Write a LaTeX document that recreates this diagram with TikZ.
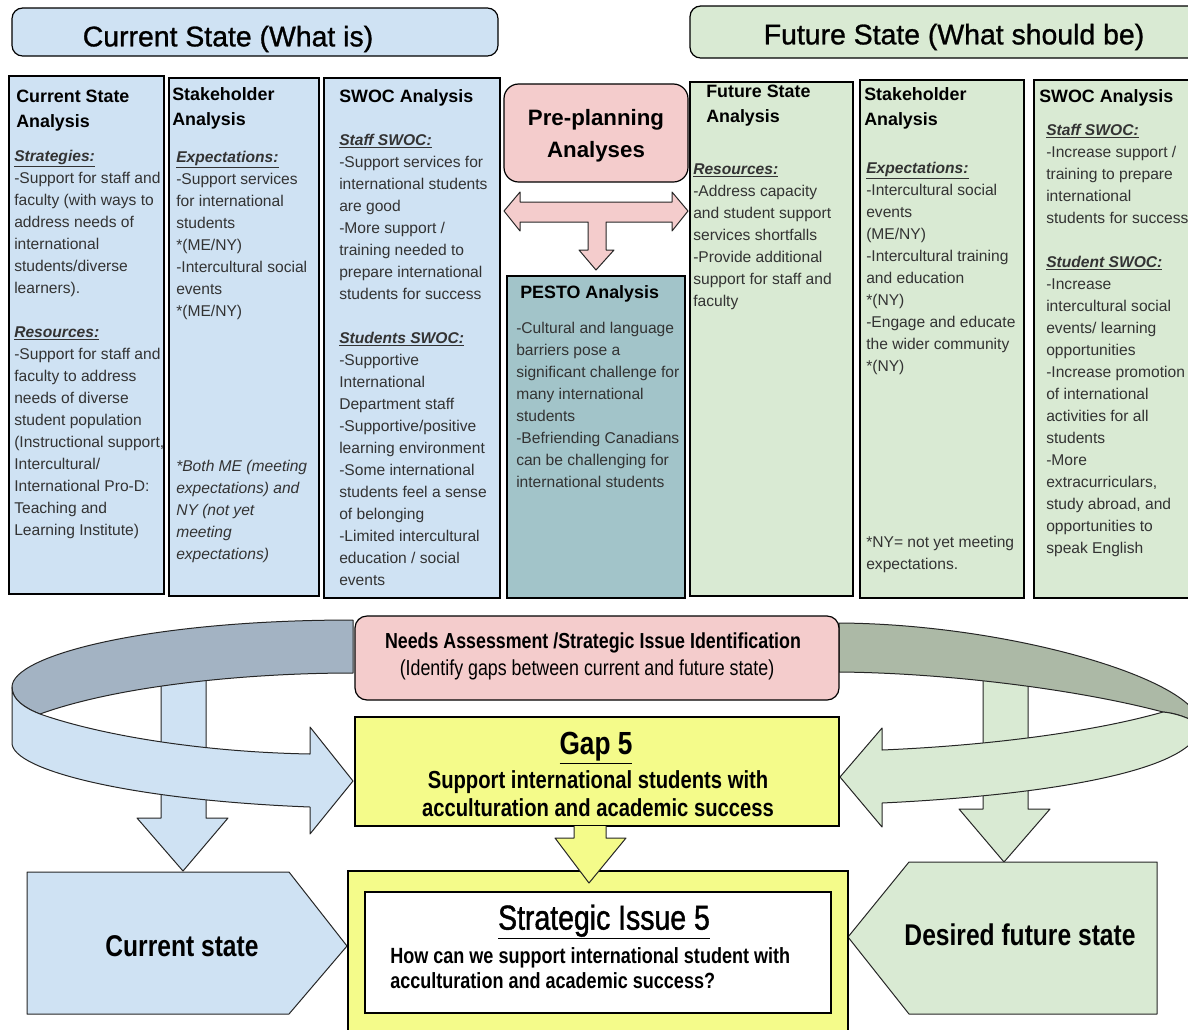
\documentclass[tikz,border=0pt]{standalone}
\usepackage{fontspec}
\setmainfont{Liberation Sans}
\newfontfamily\narrowfont[FakeStretch=0.82]{Liberation Sans}
\newfontfamily\headfont[FakeBold=1]{Liberation Sans}
\newfontfamily\issuefont[FakeStretch=0.82, FakeBold=1.2]{Liberation Sans}

\definecolor{curblue}{HTML}{CFE2F3}
\definecolor{futgreen}{HTML}{D9EAD3}
\definecolor{prepink}{HTML}{F4CCCC}
\definecolor{pestoteal}{HTML}{A2C4C9}
\definecolor{gapyellow}{HTML}{F4FB8A}
\definecolor{bandblue}{HTML}{A3B3C3}
\definecolor{bandgreen}{HTML}{ACB9A6}
\definecolor{bodygray}{HTML}{333333}

\tikzset{
  colbox/.style={draw=black, line width=0.9pt},
  band/.style={draw=black!85, line width=0.75pt, line join=round},
  coltitle/.style={anchor=north west, inner sep=0pt, align=left,
    font=\fontsize{13.4}{18.75}\selectfont\bfseries},
  colbody/.style={anchor=north west, inner sep=0pt, align=left, text=bodygray,
    font=\fontsize{11.7}{16.5}\selectfont},
  headtext/.style={inner sep=0pt, font=\headfont\fontsize{21.3}{24}\selectfont},
}
\newcommand{\subhead}[1]{\textbf{\textit{\underline{#1}}}}

\begin{document}
\begin{tikzpicture}[x=0.75pt, y=-0.75pt]
  \useasboundingbox (0,0) rectangle (1188,1029);
  \clip (0,0) rectangle (1188,1029);

  % headers
  \draw[colbox, fill=curblue, rounded corners=8pt] (12,8) rectangle (498,56);
  \draw[colbox, fill=futgreen, rounded corners=8pt] (690,6) rectangle (1200,58);
  \node[headtext] (curhead) at (228,39) {Current State (What is)};
  \node[headtext] (futhead) at (954,37) {Future State (What should be)};

  % analysis columns
  \def \Cols{
    9/76/164/594/curblue,
    169/78/319/596/curblue,
    324/78/500/598/curblue,
    507/276/685/598/pestoteal,
    690/82/853/596/futgreen,
    860/80/1024/598/futgreen,
    1034/80/1200/598/futgreen}
  \foreach \xa / \ya / \xb / \yb / \c in \Cols{
    \draw[colbox, fill=\c] (\xa,\ya) rectangle (\xb,\yb);
  }
  \draw[colbox, fill=prepink, rounded corners=11pt] (504,84) rectangle (688,182);

  % column titles
  \def \Titles{
    csa/16/90/{Current State\\Analysis},
    csh/172/87/{Stakeholder\\Analysis},
    csw/339/89/{SWOC Analysis},
    pst/520/285/{PESTO Analysis},
    fsa/706/85/{Future State\\Analysis},
    fsh/864/87/{Stakeholder\\Analysis},
    fsw/1039/89/{SWOC Analysis}}
  \foreach \id / \x / \y / \lb in \Titles{
    \node[coltitle] (\id) at (\x,\y) {\lb};
  }
  \node[font=\fontsize{16.7}{24}\selectfont\bfseries, align=center] (pre) at (596,136) {Pre-planning\\Analyses};

  % column texts
  \node[colbody] (csabody) at (14,150) {\subhead{Strategies:}\\
    -Support for staff and\\faculty (with ways to\\address needs of\\international\\students/diverse\\learners).\\[16.5pt]
    \subhead{Resources:}\\-Support for staff and\\faculty to address\\needs of diverse\\student population\\
    (Instructional support,\\Intercultural/\\International Pro-D:\\Teaching and\\Learning Institute)};
  \node[colbody] (cshbody) at (176,151) {\subhead{Expectations:}\\
    -Support services\\for international\\students\\*(ME/NY)\\-Intercultural social\\events\\*(ME/NY)};
  \node[colbody, font=\fontsize{11.7}{16.5}\selectfont\itshape] (cshnote) at (176,460) {*Both ME (meeting\\
    expectations) and\\NY (not yet\\meeting\\expectations)};
  \node[colbody] (cswbody) at (339,134) {\subhead{Staff SWOC:}\\
    -Support services for\\international students\\are good\\-More support /\\training needed to\\
    prepare international\\students for success\\[16.5pt]
    \subhead{Students SWOC:}\\-Supportive\\International\\Department staff\\-Supportive/positive\\
    learning environment\\-Some international\\students feel a sense\\of belonging\\
    -Limited intercultural\\education / social\\events};
  \node[colbody] (pstbody) at (516,322) {-Cultural and language\\barriers pose a\\
    significant challenge for\\many international\\students\\-Befriending Canadians\\
    can be challenging for\\international students};
  \node[colbody] (fsabody) at (693,163) {\subhead{Resources:}\\
    -Address capacity\\and student support\\services shortfalls\\-Provide additional\\
    support for staff and\\faculty};
  \node[colbody] (fshbody) at (866,162) {\subhead{Expectations:}\\
    -Intercultural social\\events\\(ME/NY)\\-Intercultural training\\and education\\*(NY)\\
    -Engage and educate\\the wider community\\*(NY)};
  \node[colbody] (fshnote) at (866,536) {*NY= not yet meeting\\expectations.};
  \node[colbody] (fswbody) at (1046,124) {\subhead{Staff SWOC:}\\
    -Increase support /\\training to prepare\\international\\students for success\\[16.5pt]
    \subhead{Student SWOC:}\\-Increase\\intercultural social\\events/ learning\\opportunities\\
    -Increase promotion\\of international\\activities for all\\students\\-More\\
    extracurriculars,\\study abroad, and\\opportunities to\\speak English};

  % arrow from pre-planning
  \draw[band, fill=prepink] (504,211) -- (520,192) -- (520,202) -- (672,202) -- (672,192)
    -- (688,211) -- (672,231) -- (672,222) -- (606,222) -- (606,250) -- (614,250)
    -- (596,270) -- (579,250) -- (588,250) -- (588,222) -- (520,222) -- (520,231) -- cycle;

  % down arrows to the states
  \draw[band, fill=curblue] (161,670) -- (161,818) -- (137,818) -- (183,871) -- (228,818)
    -- (206,818) -- (206,670) -- cycle;
  \draw[band, fill=futgreen] (983,670) -- (983,809) -- (959,809) -- (1004,862) -- (1050,809)
    -- (1028,809) -- (1028,670) -- cycle;

  % curved arrows, back side
  \draw[band, fill=bandblue] (353,620) .. controls (150,620) and (12,655) .. (12,687)
    .. controls (12,700) and (25,708) .. (40,714)
    .. controls (120,685) and (250,673) .. (353,673) -- cycle;
  \draw[band, fill=bandgreen] (839,623) .. controls (1010,624) and (1200,680) .. (1200,725)
    .. controls (1190,718) and (1175,713) .. (1163,712)
    .. controls (1080,690) and (950,673) .. (839,672) -- cycle;
  % curved arrows, front side
  \draw[band, fill=curblue] (12,687) .. controls (12,700) and (25,708) .. (40,714)
    .. controls (100,735) and (200,752) .. (310,754) -- (310,727) -- (353,781)
    -- (310,834) -- (310,807) .. controls (130,800) and (12,770) .. (12,743) -- cycle;
  \draw[band, fill=futgreen] (1163,712) .. controls (1100,730) and (1000,745) .. (882,750)
    -- (882,728) -- (840,777) -- (882,827) -- (882,803)
    .. controls (1050,795) and (1200,770) .. (1200,725)
    .. controls (1190,718) and (1175,713) .. (1163,712) -- cycle;

  % needs assessment and gap
  \draw[colbox, fill=prepink, rounded corners=9pt] (355,616) rectangle (839,700);
  \node[font=\narrowfont\fontsize{16.3}{20}\selectfont\bfseries] (needs) at (593,643)
    {Needs Assessment /Strategic Issue Identification};
  \node[font=\narrowfont\fontsize{16.3}{20}\selectfont] (needsub) at (587,670)
    {(Identify gaps between current and future state)};
  \draw[colbox, fill=gapyellow] (355,717) rectangle (839,826);
  \node[font=\narrowfont\fontsize{24}{28}\selectfont\bfseries] (gap) at (596,748) {\underline{Gap 5}};
  \node[font=\narrowfont\fontsize{18.5}{21}\selectfont\bfseries, align=center] (gaptext) at (598,794)
    {Support international students with\\acculturation and academic success};

  % states
  \draw[band, fill=curblue] (27,872) -- (289,872) -- (347,946) -- (289,1014) -- (27,1014) -- cycle;
  \node[font=\narrowfont\fontsize{22.5}{26}\selectfont\bfseries] (curstate) at (182,946) {Current state};
  \draw[band, fill=futgreen] (909,862) -- (1157,862) -- (1157,1014) -- (909,1014) -- (848,937) -- cycle;
  \node[font=\narrowfont\fontsize{22.5}{26}\selectfont\bfseries] (futstate) at (1020,935) {Desired future state};

  % strategic issue
  \draw[colbox, fill=gapyellow] (348,871) rectangle (848,1040);
  \draw[band, fill=gapyellow] (574,826) -- (574,838) -- (555,838) -- (589,883) -- (626,838)
    -- (606,838) -- (606,826);
  \draw[colbox, fill=white] (365,892) rectangle (831,1013);
  \node[font=\issuefont\fontsize{26}{30}\selectfont] (issue) at (604,922) {\underline{Strategic Issue 5}};
  \node[anchor=north west, inner sep=0pt, align=left,
    font=\narrowfont\fontsize{16.5}{18.75}\selectfont\bfseries] (question) at (390,947)
    {How can we support international student with\\acculturation and academic success?};
\end{tikzpicture}
\end{document}
